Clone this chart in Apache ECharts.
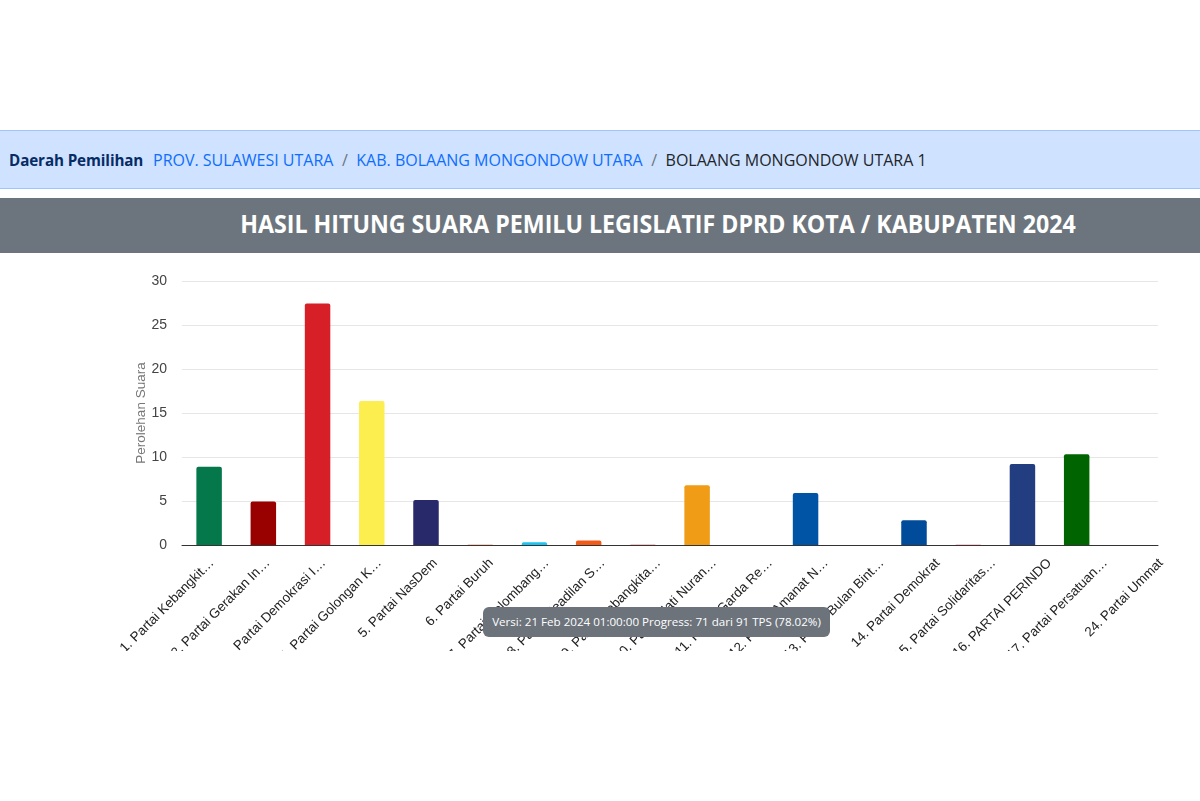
<!DOCTYPE html>
<html>
<head>
<meta charset="utf-8">
<script src="https://cdn.jsdelivr.net/npm/echarts@6/dist/echarts.min.js"></script>
<style>
  html, body { margin: 0; padding: 0; background: #fff; width: 1200px; height: 801px; overflow: hidden; }
  #crumb { position: absolute; left: 0; top: 130px; width: 1200px; height: 59px; background: #cfe2ff; border-top: 1px solid #9ec5fe; border-bottom: 1px solid #9ec5fe; box-sizing: border-box; font-family: "Open Sans", "Noto Sans", sans-serif; font-size: 16px; white-space: nowrap; }
  #crumb .lbl { position: absolute; left: 9px; top: 0; line-height: 59px; font-weight: bold; color: #052c65; font-size: 15.2px; letter-spacing: -0.1px; }
  #crumb .path { position: absolute; left: 153px; top: 0; line-height: 59px; color: #0d6efd; }
  #crumb .sep { color: #6c757d; padding: 0 8.5px; }
  #crumb .cur { color: #212529; }
  #titlebar { position: absolute; left: 0; top: 198px; width: 1200px; height: 55px; background: #6c757d; color: #fff; font-family: "Open Sans", "Noto Sans", sans-serif; font-weight: bold; font-size: 23.2px; line-height: 50px; }
  #titlebar span { position: absolute; left: 658px; top: 0; transform: translateX(-50%) scaleY(1.1); white-space: nowrap; }
  #chart { position: absolute; left: 0; top: 255px; width: 1200px; height: 396px; overflow: hidden; }
  #tip { position: absolute; left: 483px; top: 607px; width: 347px; height: 30px; background: #6c737b; color: #fff; border-radius: 6px; font-family: "Open Sans", "Noto Sans", sans-serif; font-size: 11.6px; line-height: 30px; text-align: center; white-space: nowrap; }
</style>
</head>
<body>
<div id="crumb"><span class="lbl">Daerah Pemilihan</span><span class="path">PROV. SULAWESI UTARA<span class="sep">/</span>KAB. BOLAANG MONGONDOW UTARA<span class="sep">/</span><span class="cur">BOLAANG MONGONDOW UTARA 1</span></span></div>
<div id="titlebar"><span>HASIL HITUNG SUARA PEMILU LEGISLATIF DPRD KOTA / KABUPATEN 2024</span></div>
<div id="chart"></div>
<div id="tip">Versi: 21 Feb 2024 01:00:00 Progress: 71 dari 91 TPS (78.02%)</div>
<script>
const categories = [
  "1. Partai Kebangkit…", "2. Partai Gerakan In…", "3. Partai Demokrasi I…", "4. Partai Golongan K…",
  "5. Partai NasDem", "6. Partai Buruh", "7. Partai Gelombang…", "8. Partai Keadilan S…",
  "9. Partai Kebangkita…", "10. Partai Hati Nuran…", "11. Partai Garda Re…", "12. Partai Amanat N…",
  "13. Partai Bulan Bint…", "14. Partai Demokrat", "15. Partai Solidaritas…", "16. PARTAI PERINDO",
  "17. Partai Persatuan…", "24. Partai Ummat"
];
const votes = [8.9, 4.95, 27.45, 16.35, 5.1, 0.05, 0.3, 0.5, 0.05, 6.8, 0, 5.9, 0, 2.8, 0.05, 9.2, 10.3, 0];
const barColors = [
  "#04774b", "#990000", "#d61f26", "#fdee4f", "#28296b", "#f4a27c", "#1dc3ef", "#f25a18",
  "#f48a8a", "#f09c17", "#c0c0c0", "#0054a6", "#1f8a4c", "#004b9a", "#f59ba6", "#233e80",
  "#006400", "#4a7c3a"
];
const yTicks = [0, 5, 10, 15, 20, 25, 30];

const labelFont = 'Arial, "Liberation Sans", sans-serif';
const chart = echarts.init(document.getElementById('chart'), null, { renderer: 'canvas' });
chart.setOption({
  animation: false,
  grid: [
    { left: 182, right: 42, top: 26, bottom: 106, containLabel: false, outerBoundsMode: 'none' },
    { left: 184, right: 11, top: 26, bottom: 106, containLabel: false, outerBoundsMode: 'none' }
  ],
  xAxis: [{
    type: 'category',
    gridIndex: 0,
    data: categories,
    axisLine: { lineStyle: { color: '#333', width: 1 } },
    axisTick: { show: false },
    axisLabel: { show: false }
  }, {
    type: 'category',
    gridIndex: 1,
    data: categories,
    axisLine: { show: false },
    axisTick: { show: false },
    splitLine: { show: false },
    axisLabel: { rotate: 45, interval: 0, margin: 16, color: '#222', fontFamily: labelFont, fontSize: 13.4 }
  }],
  yAxis: [{
    type: 'value',
    gridIndex: 0,
    min: yTicks[0], max: yTicks[yTicks.length - 1], interval: 5,
    name: 'Perolehan Suara',
    nameLocation: 'middle',
    nameGap: 34,
    nameMoveOverlap: false,
    nameTextStyle: { color: '#777', fontFamily: labelFont, fontSize: 13.5 },
    axisLine: { show: false },
    axisTick: { show: false },
    axisLabel: { color: '#444', fontFamily: labelFont, fontSize: 14, margin: 15 },
    splitLine: { lineStyle: { color: '#e6e6e6' } }
  }, {
    type: 'value',
    gridIndex: 1,
    min: 0, max: 30,
    show: false
  }],
  series: [{
    type: 'bar',
    xAxisIndex: 0,
    yAxisIndex: 0,
    data: votes.map((v, i) => ({ value: v, itemStyle: { color: barColors[i] } })),
    barWidth: '47%',
    itemStyle: { borderRadius: [2, 2, 0, 0] }
  }]
});
</script>
</body>
</html>
